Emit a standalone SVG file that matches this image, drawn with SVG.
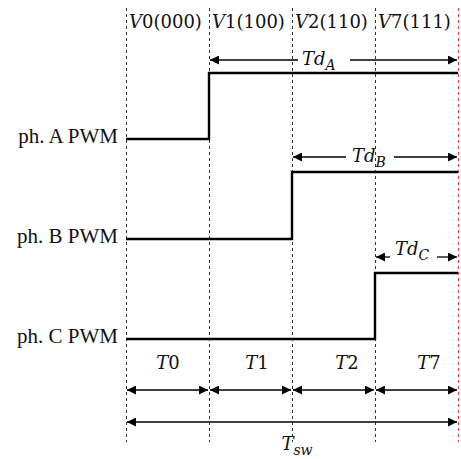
<svg xmlns="http://www.w3.org/2000/svg" width="461" height="459" viewBox="0 0 461 459">
<style>
.grid{stroke:#333;stroke-width:1;stroke-dasharray:3,3;fill:none}
.red{stroke:#d04040}
.sig{stroke:#000;stroke-width:2.4;fill:none}
.arr{stroke:#000;stroke-width:1.3;fill:none;marker-start:url(#ah);marker-end:url(#ah)}
.arrL{stroke:#000;stroke-width:1.3;fill:none;marker-start:url(#ah)}
.arrR{stroke:#000;stroke-width:1.3;fill:none;marker-end:url(#ah)}
.lbl{font-family:"Liberation Serif","Times New Roman",serif;font-size:21px;fill:#111}
.m{font-family:"DejaVu Serif","Liberation Serif",serif;font-size:18px;fill:#111}
.i{font-style:italic}
</style>
<defs>
<marker id="ah" viewBox="0 0 10 10" refX="10" refY="5" markerWidth="10" markerHeight="9" markerUnits="userSpaceOnUse" orient="auto-start-reverse">
<path d="M0,0 L10,5 L0,10 z" fill="#000"/>
</marker>
</defs>
<g id="grid">
<line class="grid" x1="126.5" y1="8" x2="126.5" y2="442"/>
<line class="grid" x1="209.5" y1="8" x2="209.5" y2="442"/>
<line class="grid" x1="292.5" y1="8" x2="292.5" y2="442"/>
<line class="grid" x1="375.5" y1="8" x2="375.5" y2="442"/>
<line class="grid red" x1="458.5" y1="8" x2="458.5" y2="442"/>
</g>
<g id="headers">
<text class="m" x="129" y="28"><tspan class="i">V</tspan>0(000)</text>
<text class="m" x="212" y="28"><tspan class="i">V</tspan>1(100)</text>
<text class="m" x="295" y="28"><tspan class="i">V</tspan>2(110)</text>
<text class="m" x="378" y="28"><tspan class="i">V</tspan>7(111)</text>
</g>
<g id="phaseA">
<text class="lbl" x="118" y="143" text-anchor="end">ph. A PWM</text>
<polyline class="sig" points="126,139 209,139 209,73 458,73"/>
</g>
<g id="phaseB">
<text class="lbl" x="118" y="243" text-anchor="end">ph. B PWM</text>
<polyline class="sig" points="126,239 292,239 292,172 458,172"/>
</g>
<g id="phaseC">
<text class="lbl" x="118" y="343" text-anchor="end">ph. C PWM</text>
<polyline class="sig" points="126,339 375,339 375,273 458,273"/>
</g>
<g id="connectors">
<line class="arrL" x1="210" y1="60" x2="298" y2="60"/>
<line class="arrR" x1="350" y1="60" x2="457" y2="60"/>
<line class="arrL" x1="293" y1="157" x2="346" y2="157"/>
<line class="arrR" x1="394" y1="157" x2="457" y2="157"/>
<line class="arrL" x1="376" y1="257" x2="390" y2="257"/>
<line class="arrR" x1="437" y1="257" x2="457" y2="257"/>
<line class="arr" x1="127" y1="390" x2="208" y2="390"/>
<line class="arr" x1="210" y1="390" x2="291" y2="390"/>
<line class="arr" x1="293" y1="390" x2="374" y2="390"/>
<line class="arr" x1="376" y1="390" x2="457" y2="390"/>
<line class="arr" x1="127" y1="422" x2="457" y2="422"/>
</g>
<g id="labels">
<text class="m i" x="302" y="65" font-size="19">Td<tspan font-size="14" dy="5">A</tspan></text>
<text class="m i" x="352" y="162" font-size="19">Td<tspan font-size="14" dy="5">B</tspan></text>
<text class="m i" x="395" y="255" font-size="19">Td<tspan font-size="14" dy="5">C</tspan></text>
<text class="m" x="168" y="369" text-anchor="middle"><tspan class="i">T</tspan>0</text>
<text class="m" x="257" y="369" text-anchor="middle"><tspan class="i">T</tspan>1</text>
<text class="m" x="347" y="369" text-anchor="middle"><tspan class="i">T</tspan>2</text>
<text class="m" x="429" y="369" text-anchor="middle"><tspan class="i">T</tspan>7</text>
<text class="m i" x="297" y="450" text-anchor="middle">T<tspan font-size="14" dy="5">sw</tspan></text>
</g>
</svg>
